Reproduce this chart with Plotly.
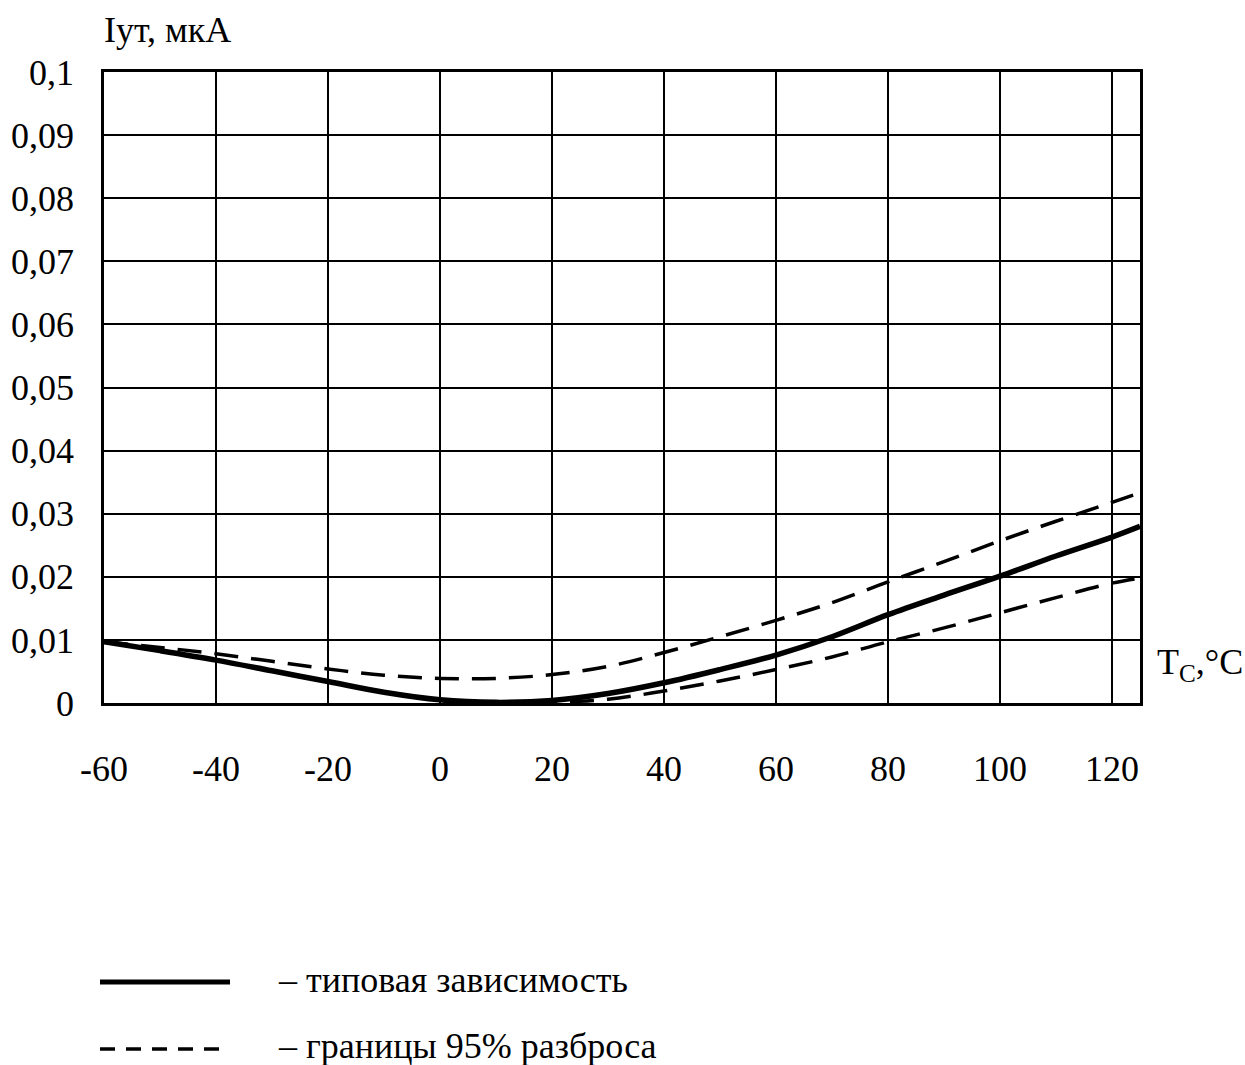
import plotly.graph_objects as go

# ---- data ----
t_typ = [-60, -50, -40, -30, -20, -10, 0, 10, 20, 30, 40, 50, 60, 70, 80, 90, 100, 110, 120, 125]
i_typ = [0.0097, 0.0083, 0.0068, 0.0051, 0.0034, 0.0017, 0.0005, 0.0001, 0.0004, 0.0015,
         0.0032, 0.0053, 0.0076, 0.0105, 0.0140, 0.0171, 0.0201, 0.0233, 0.0263, 0.0280]

t_up = [-60, -50, -40, -30, -20, -10, 0, 10, 20, 30, 40, 50, 60, 70, 80, 90, 100, 110, 120, 125]
i_up = [0.0097, 0.0088, 0.0078, 0.0066, 0.0054, 0.0044, 0.0039, 0.0039, 0.0045, 0.0058,
        0.0080, 0.0105, 0.0131, 0.0159, 0.0192, 0.0224, 0.0257, 0.0288, 0.0318, 0.0333]

t_low = [10, 20, 30, 40, 50, 60, 70, 80, 90, 100, 110, 120, 125]
i_low = [0.0000, 0.0001, 0.0006, 0.0019, 0.0035, 0.0053, 0.0073, 0.0097, 0.0119, 0.0143,
         0.0167, 0.0190, 0.0198]

x_ticks = [-60, -40, -20, 0, 20, 40, 60, 80, 100, 120]
x_labels = ["-60", "-40", "-20", "0", "20", "40", "60", "80", "100", "120"]
y_ticks = [0, 0.01, 0.02, 0.03, 0.04, 0.05, 0.06, 0.07, 0.08, 0.09, 0.1]
y_labels = ["0", "0,01", "0,02", "0,03", "0,04", "0,05", "0,06", "0,07", "0,08", "0,09", "0,1"]

legend_labels = ["– типовая зависимость", "– границы 95% разброса"]

# ---- layout geometry ----
W, H = 1245, 1065
L, R, T, B = 104, 1140, 72, 703
FONT = "Liberation Serif, Times New Roman, serif"
TXT = 36


def py(pix):
    """pixel row -> paper y"""
    return (B - pix) / (B - T)


def px(pix):
    return (pix - L) / (R - L)


fig = go.Figure()
fig.add_trace(go.Scatter(x=t_up, y=i_up, mode="lines", line=dict(color="black", width=3.5, dash="24px,13px", shape="spline"),
                         showlegend=False, hoverinfo="skip"))
fig.add_trace(go.Scatter(x=t_low, y=i_low, mode="lines", line=dict(color="black", width=3.5, dash="24px,13px", shape="spline"),
                         showlegend=False, hoverinfo="skip"))
fig.add_trace(go.Scatter(x=t_typ, y=i_typ, mode="lines", line=dict(color="black", width=5.5, shape="spline"),
                         showlegend=False, hoverinfo="skip"))

fig.update_xaxes(range=[-60, 125], tickvals=x_ticks, ticktext=x_labels,
                 showgrid=True, gridcolor="black", gridwidth=2,
                 showline=True, linecolor="black", linewidth=2.5, mirror=True,
                 zeroline=False, ticks="", ticklabelstandoff=32, automargin=False,
                 tickfont=dict(family=FONT, size=TXT, color="black"), fixedrange=True)
fig.update_yaxes(range=[0, 0.1], tickvals=y_ticks, ticktext=y_labels,
                 showgrid=True, gridcolor="black", gridwidth=2,
                 showline=True, linecolor="black", linewidth=2.5, mirror=True,
                 zeroline=False, ticks="", ticklabelstandoff=20, automargin=False,
                 tickfont=dict(family=FONT, size=TXT, color="black"), fixedrange=True)

annotations = [
    dict(text="Iут, мкА", xref="paper", yref="paper", x=px(102), y=py(30),
         xanchor="left", yanchor="middle", showarrow=False,
         font=dict(family=FONT, size=TXT, color="black")),
    dict(text="T<sub>C</sub>,°C", xref="paper", yref="paper", x=px(1155), y=py(664),
         xanchor="left", yanchor="middle", showarrow=False,
         font=dict(family=FONT, size=TXT, color="black")),
    dict(text=legend_labels[0], xref="paper", yref="paper", x=px(276), y=py(980),
         xanchor="left", yanchor="middle", showarrow=False,
         font=dict(family=FONT, size=TXT, color="black")),
    dict(text=legend_labels[1], xref="paper", yref="paper", x=px(276), y=py(1046),
         xanchor="left", yanchor="middle", showarrow=False,
         font=dict(family=FONT, size=TXT, color="black")),
]

shapes = [
    dict(type="line", xref="paper", yref="paper", x0=px(100), x1=px(230), y0=py(982), y1=py(982),
         line=dict(color="black", width=5)),
    dict(type="line", xref="paper", yref="paper", x0=px(100), x1=px(230), y0=py(1049), y1=py(1049),
         line=dict(color="black", width=3.5, dash="15px,11px")),
]

fig.update_layout(width=W, height=H, margin=dict(l=L, r=W - R, t=T, b=H - B, autoexpand=False),
                  paper_bgcolor="white", plot_bgcolor="white",
                  annotations=annotations, shapes=shapes, showlegend=False)

fig.write_html("out.html", config={"displayModeBar": False},
               post_script="document.body.style.margin='0';document.body.style.overflow='hidden';")
